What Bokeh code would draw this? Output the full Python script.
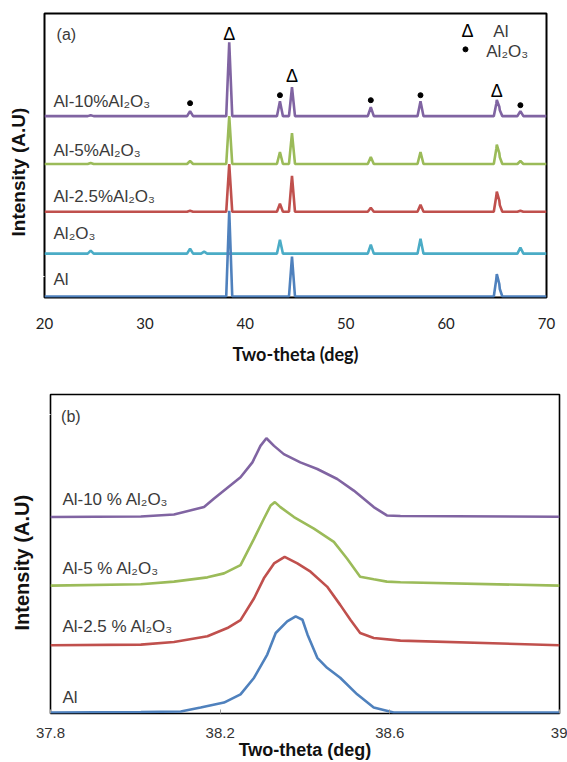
import math
from bokeh.plotting import figure
from bokeh.layouts import column
from bokeh.models import Range1d, FixedTicker, Title
from bokeh.core.properties import value
from bokeh.embed import file_html
from bokeh.resources import INLINE

# ---------------- Panel (a) data ----------------
peak_pos_a = [24.6, 34.5, 35.9, 38.4, 43.45, 44.65, 52.5, 57.45, 65.05, 65.3, 67.4]
h_al = [0, 0, 0, 86, 0, 40, 0, 0, 21, 9, 0]
h_al2o3 = [3, 5, 2, 0, 14, 0, 9, 15, 0, 0, 6]
h_al25 = [0, 1, 0, 48, 8, 36, 4, 7, 19, 8, 1]
h_al5 = [1, 3, 0, 48, 12, 31, 7, 12, 18, 8, 3]
h_al10 = [1, 5, 0, 74, 15, 29, 9, 15, 15, 7, 5]
series_names_a = ["Al", "Al₂O₃", "Al-2.5%Al₂O₃", "Al-5%Al₂O₃", "Al-10%Al₂O₃"]
baselines_a = [0, 43, 85, 133, 181]
label_y_a = [17, 63, 100, 147, 196]
al_marks_x = [38.4, 44.65, 65.05]
al_marks_y = [263, 221, 206]
al2o3_marks_x = [34.5, 43.45, 52.5, 57.45, 67.4]
al2o3_marks_y = [194, 202, 197, 202, 192]

# ---------------- Panel (b) data ----------------
b_x_al = [37.8, 38.013, 38.107, 38.154, 38.209, 38.248, 38.280, 38.311, 38.331, 38.358,
          38.378, 38.394, 38.406, 38.429, 38.452, 38.483, 38.523, 38.562, 38.609, 39.0]
b_y_al = [0, 0.5, 1, 5, 10, 18.3, 35, 58.3, 80, 91.7, 96.7, 93.3, 78.3, 55, 45, 35, 18.3, 5, 0, 0]
b_x_al25 = [37.8, 38.013, 38.091, 38.170, 38.217, 38.248, 38.280, 38.303, 38.327, 38.352,
            38.382, 38.413, 38.452, 38.483, 38.507, 38.530, 38.562, 38.625, 39.0]
b_y_al25 = [67.7, 68.3, 71, 76.7, 85, 93, 115, 135, 150, 156.7, 150, 141.7, 126.7, 108.3,
            93.3, 80, 75, 72.3, 67.7]
b_x_al5 = [37.8, 38.013, 38.091, 38.170, 38.209, 38.248, 38.264, 38.280, 38.303, 38.319,
           38.329, 38.342, 38.374, 38.421, 38.468, 38.499, 38.530, 38.562, 38.593, 38.625, 39.0]
b_y_al5 = [127.7, 129, 131.7, 136, 140, 148.3, 161.7, 175, 195, 208.3, 211.7, 206.7, 196.7,
           185, 171.7, 155, 136.7, 134, 131.7, 131, 127.7]
b_x_al10 = [37.8, 38.013, 38.091, 38.162, 38.185, 38.248, 38.276, 38.295, 38.309, 38.327,
            38.350, 38.389, 38.429, 38.476, 38.515, 38.562, 38.593, 38.625, 39.0]
b_y_al10 = [196.7, 197.3, 199.3, 206.7, 215, 236.7, 251.7, 268.3, 276, 268.3, 260, 251.7,
            245, 235, 223.3, 206.7, 198.3, 197.7, 197]
series_names_b = ["Al", "Al-2.5 % Al₂O₃", "Al-5 % Al₂O₃", "Al-10 % Al₂O₃"]
label_y_b = [15, 87, 145, 214]

colors = ["#4F81BD", "#4BACC6", "#C0504D", "#9BBB59", "#8064A2"]
colors_b = ["#4F81BD", "#C0504D", "#9BBB59", "#8064A2"]

ARIAL = value("Liberation Sans")
TXT = "#3a3a3a"
HALF = 0.3


def trace(base, heights):
    # piecewise-linear spikes built from the read peak positions and heights
    pts = {20.0, 70.0}
    for p, h in zip(peak_pos_a, heights):
        if h > 0:
            pts.update([p - HALF, p, p + HALF])
    xs = sorted(pts)
    ys = []
    for x in xs:
        y = base
        for p, h in zip(peak_pos_a, heights):
            if h > 0 and abs(x - p) < HALF:
                y += h * (1 - abs(x - p) / HALF)
        ys.append(y)
    return xs, ys


def spacer_yaxis(p, gap, tick_at):
    # a blank y axis (one white, label-less tick) that only reserves room
    # between the frame and the rotated axis title
    ya = p.yaxis[0]
    ya.ticker = FixedTicker(ticks=[tick_at])
    ya.major_label_overrides = {tick_at: ""}
    ya.major_tick_out = gap
    ya.major_tick_in = 0
    ya.minor_tick_out = 0
    ya.minor_tick_in = 0
    ya.major_label_standoff = 0
    ya.major_label_text_font_size = "1px"
    ya.axis_line_color = None
    ya.major_tick_line_color = "white"
    ya.minor_tick_line_color = None


p1 = figure(width=567, height=367, x_range=Range1d(20, 70), y_range=Range1d(-1, 284),
            output_backend="svg", toolbar_location=None,
            min_border_left=44, min_border_right=21, min_border_top=13, min_border_bottom=69)
p1.outline_line_color = "black"
p1.outline_line_width = 2
p1.grid.visible = False
spacer_yaxis(p1, 12, 20)
xa = p1.xaxis[0]
xa.ticker = FixedTicker(ticks=[20, 30, 40, 50, 60, 70])
xa.minor_tick_line_color = None
xa.major_tick_line_color = None
xa.major_tick_out = 0
xa.axis_line_color = None
xa.major_label_standoff = 20
xa.major_label_text_font = "Lato"
xa.major_label_text_font_size = "15px"
xa.major_label_text_color = "#222222"
xa.axis_label = "Two-theta (deg)"
xa.axis_label_text_font = "Lato"
xa.axis_label_text_font_style = "bold"
xa.axis_label_text_font_size = "18px"
xa.axis_label_text_color = "#111111"
xa.axis_label_standoff = 11

all_h = [h_al, h_al2o3, h_al25, h_al5, h_al10]
for i in [4, 3, 2, 1, 0]:
    xs, ys = trace(baselines_a[i], all_h[i])
    p1.line(xs, ys, line_color=colors[i], line_width=2.6)

p1.text(x=[20.9] * 5, y=label_y_a, text=series_names_a, text_font=ARIAL,
        text_font_size=value("17px"), text_color=TXT, text_baseline="middle", text_align="left")
p1.text(x=[21.2], y=[263], text=["(a)"], text_font=ARIAL, text_font_size=value("16px"),
        text_color=TXT, text_baseline="middle", text_align="left")
p1.text(x=al_marks_x, y=al_marks_y, text=["Δ"] * 3, text_font=ARIAL,
        text_font_size=value("18px"), text_color="black", text_baseline="middle", text_align="center")
p1.scatter(x=al2o3_marks_x, y=al2o3_marks_y, size=5, color="black")
# legend
p1.text(x=[62.13], y=[266], text=["Δ"], text_font=ARIAL, text_font_size=value("18px"),
        text_color="black", text_baseline="middle", text_align="center")
p1.text(x=[64.7], y=[266], text=["Al"], text_font=ARIAL, text_font_size=value("17px"),
        text_color=TXT, text_baseline="middle", text_align="left")
p1.scatter(x=[61.93], y=[248], size=5, color="black")
p1.text(x=[64.0], y=[246], text=["Al₂O₃"], text_font=ARIAL, text_font_size=value("17px"),
        text_color=TXT, text_baseline="middle", text_align="left")
p1.add_layout(Title(text="Intensity (A.U)", align="left", offset=61, vertical_align="middle",
                    standoff=6, text_font="Liberation Sans", text_font_size="19px",
                    text_font_style="bold", text_color="#111111"), "left")

# ---------------- Panel (b) ----------------
p2 = figure(width=567, height=395, x_range=Range1d(37.8, 39.0), y_range=Range1d(-1, 320),
            output_backend="svg", toolbar_location=None,
            min_border_left=50, min_border_right=8, min_border_top=27, min_border_bottom=47)
p2.outline_line_color = "black"
p2.outline_line_width = 1.6
p2.grid.visible = False
spacer_yaxis(p2, 14, 300)
xb = p2.xaxis[0]
xb.ticker = FixedTicker(ticks=[37.8, 38.2, 38.6, 39.0])
xb.major_label_overrides = {39.0: "39"}
xb.minor_tick_line_color = None
xb.major_tick_in = 4
xb.major_tick_out = 0
xb.major_tick_line_color = "#999999"
xb.axis_line_color = None
xb.major_label_standoff = 14
xb.major_label_text_font = "Liberation Sans"
xb.major_label_text_font_size = "15px"
xb.major_label_text_color = "#333333"
xb.major_label_text_line_height = 1.0
xb.axis_label = "Two-theta (deg)"
xb.axis_label_text_font = "Liberation Sans"
xb.axis_label_text_font_style = "bold"
xb.axis_label_text_font_size = "18px"
xb.axis_label_text_color = "#111111"
xb.axis_label_text_line_height = 1.0
xb.axis_label_standoff = -1

b_x = [b_x_al, b_x_al25, b_x_al5, b_x_al10]
b_y = [b_y_al, b_y_al25, b_y_al5, b_y_al10]
for i in range(4):
    p2.line(b_x[i], b_y[i], line_color=colors_b[i], line_width=2.6)

p2.text(x=[37.828] * 4, y=label_y_b, text=series_names_b, text_font=ARIAL,
        text_font_size=value("17px"), text_color=TXT, text_baseline="middle", text_align="left")
p2.text(x=[37.825], y=[298], text=["(b)"], text_font=ARIAL, text_font_size=value("16px"),
        text_color=TXT, text_baseline="middle", text_align="left")
p2.add_layout(Title(text="Intensity (A.U)", align="left", offset=83, vertical_align="middle",
                    standoff=6, text_font="Liberation Sans", text_font_size="20px",
                    text_font_style="bold", text_color="#111111"), "left")

for p in (p1, p2):
    if "frame_align" in p.properties():
        p.frame_align = False

layout = column(p1, p2, spacing=0)
open("out.html", "w").write(file_html(layout, INLINE))
